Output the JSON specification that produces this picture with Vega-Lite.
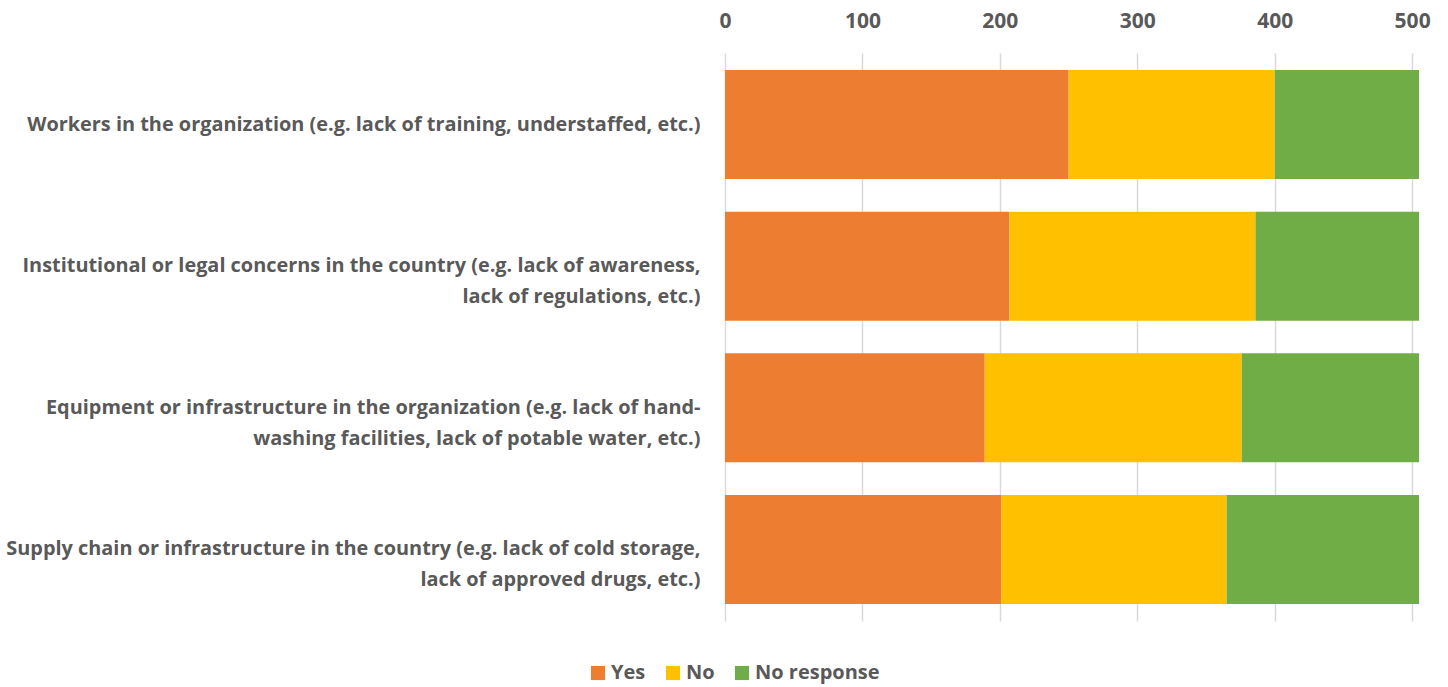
{
  "$schema": "https://vega.github.io/schema/vega-lite/v6.json",
  "width": 694,
  "height": 568,
  "autosize": {"type": "none"},
  "padding": {"left": 725, "top": 53, "right": 29, "bottom": 66},
  "background": "white",
  "config": {
    "view": {"stroke": null},
    "font": "Open Sans"
  },
  "data": {
    "values": [
      {"category": "Workers in the organization (e.g. lack of training, understaffed, etc.)", "response": "Yes", "k": 1, "count": 250},
      {"category": "Workers in the organization (e.g. lack of training, understaffed, etc.)", "response": "No", "k": 2, "count": 150},
      {"category": "Workers in the organization (e.g. lack of training, understaffed, etc.)", "response": "No response", "k": 3, "count": 105},
      {"category": "Institutional or legal concerns in the country (e.g. lack of awareness,|lack of regulations, etc.)", "response": "Yes", "k": 1, "count": 207},
      {"category": "Institutional or legal concerns in the country (e.g. lack of awareness,|lack of regulations, etc.)", "response": "No", "k": 2, "count": 179},
      {"category": "Institutional or legal concerns in the country (e.g. lack of awareness,|lack of regulations, etc.)", "response": "No response", "k": 3, "count": 119},
      {"category": "Equipment or infrastructure in the organization (e.g. lack of hand-|washing facilities, lack of potable water, etc.)", "response": "Yes", "k": 1, "count": 189},
      {"category": "Equipment or infrastructure in the organization (e.g. lack of hand-|washing facilities, lack of potable water, etc.)", "response": "No", "k": 2, "count": 187},
      {"category": "Equipment or infrastructure in the organization (e.g. lack of hand-|washing facilities, lack of potable water, etc.)", "response": "No response", "k": 3, "count": 129},
      {"category": "Supply chain or infrastructure in the country (e.g. lack of cold storage,|lack of approved drugs, etc.)", "response": "Yes", "k": 1, "count": 201},
      {"category": "Supply chain or infrastructure in the country (e.g. lack of cold storage,|lack of approved drugs, etc.)", "response": "No", "k": 2, "count": 164},
      {"category": "Supply chain or infrastructure in the country (e.g. lack of cold storage,|lack of approved drugs, etc.)", "response": "No response", "k": 3, "count": 140}
    ]
  },
  "mark": {"type": "bar"},
  "encoding": {
    "y": {
      "field": "category",
      "type": "nominal",
      "sort": null,
      "title": null,
      "scale": {"paddingInner": 0.23, "paddingOuter": 0.12},
      "axis": {
        "domain": false,
        "ticks": false,
        "labelExpr": "split(datum.label, '|')",
        "labelFont": "Open Sans",
        "labelFontWeight": "bold",
        "labelFontSize": 19.9,
        "labelColor": "#595959",
        "labelPadding": 25,
        "labelLineHeight": 31,
        "labelLimit": 900
      }
    },
    "x": {
      "field": "count",
      "type": "quantitative",
      "stack": "zero",
      "title": null,
      "scale": {"domain": [0, 505], "nice": false},
      "axis": {
        "orient": "top",
        "values": [0, 100, 200, 300, 400, 500],
        "domain": false,
        "ticks": false,
        "grid": true,
        "gridColor": "#d9d9d9",
        "gridWidth": 1.5,
        "labelFont": "Open Sans",
        "labelFontWeight": "bold",
        "labelFontSize": 21,
        "labelColor": "#595959",
        "labelPadding": 22,
        "labelFlush": false
      }
    },
    "color": {
      "field": "response",
      "type": "nominal",
      "scale": {"domain": ["Yes", "No", "No response"], "range": ["#ED7D31", "#FFC000", "#70AD47"]},
      "legend": {
        "title": null,
        "orient": "none",
        "direction": "horizontal",
        "legendX": -137,
        "legendY": 610,
        "symbolType": "square",
        "symbolSize": 200,
        "symbolStrokeWidth": 0,
        "columnPadding": 17,
        "labelFont": "Open Sans",
        "labelFontWeight": "bold",
        "labelFontSize": 20,
        "labelColor": "#595959",
        "labelOffset": 3
      }
    },
    "order": {"field": "k", "type": "quantitative"}
  }
}
